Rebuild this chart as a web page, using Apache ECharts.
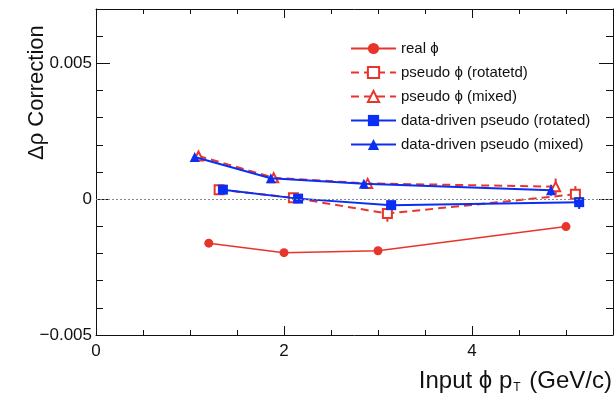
<!DOCTYPE html>
<html>
<head>
<meta charset="utf-8">
<script src="https://cdn.jsdelivr.net/npm/echarts@6/dist/echarts.min.js"></script>
<style>
  html, body { margin: 0; padding: 0; background: #fff; }
  #chart { width: 616px; height: 406px; }
</style>
</head>
<body>
<div id="chart"></div>
<script>
// values
const realX = [1.2, 2.0, 3.0, 5.0];
const realY = [-0.00162, -0.00197, -0.0019, -0.00101];

const pseudoRotX = [1.31, 2.1, 3.1, 5.1];
const pseudoRotY = [0.00035, 0.00005, -0.00053, 0.00018];
const pseudoRotErr = [0.00005, 0.00005, 0.0003, 0.0003];

const pseudoMixX = [1.09, 1.89, 2.89, 4.89];
const pseudoMixY = [0.00159, 0.00079, 0.00058, 0.00046];
const pseudoMixErr = [0.00005, 0.00005, 0.00005, 0.0003];

const dataRotX = [1.35, 2.15, 3.14, 5.14];
const dataRotY = [0.00035, 0.00002, -0.00022, -0.00011];
const dataRotErr = [0.00005, 0.00005, 0.00005, 0.00025];

const dataMixX = [1.05, 1.86, 2.85, 4.84];
const dataMixY = [0.00155, 0.00077, 0.00057, 0.00033];
const dataMixErr = [0.00005, 0.00005, 0.00005, 0.0002];

const names = [
  'real ϕ',
  'pseudo ϕ (rotatetd)',
  'pseudo ϕ (mixed)',
  'data-driven pseudo (rotated)',
  'data-driven pseudo (mixed)',
];

const RED = '#e8352b';
const BLUE = '#0a2ef2';
const FONT = '"Liberation Sans", Arial, sans-serif';

const pairs = (xs, ys) => xs.map((x, i) => [x, ys[i]]);
const errPairs = (xs, ys, es) => xs.map((x, i) => [x, ys[i], es[i]]);

const fmtY = (v) => {
  if (Math.abs(v) < 1e-9) return '0';
  return (v < 0 ? '\u2212' : '') + Math.abs(v).toFixed(3);
};

const errorBars = (data, color) => ({
  type: 'custom',
  silent: true,
  z: 1,
  data,
  encode: { x: 0, y: 1 },
  renderItem: (params, api) => {
    const x = api.value(0);
    const y = api.value(1);
    const e = api.value(2);
    const lo = api.coord([x, y - e]);
    const hi = api.coord([x, y + e]);
    return {
      type: 'line',
      shape: { x1: lo[0], y1: lo[1], x2: hi[0], y2: hi[1] },
      style: { stroke: color, lineWidth: 2 },
    };
  },
});

const chart = echarts.init(document.getElementById('chart'));

const axisLine = { show: true, onZero: false, lineStyle: { color: '#111', width: 1 } };
const tickStyle = { color: '#111' };

const xAxisBase = {
  type: 'value',
  min: 0,
  max: 5.5,
  interval: 2,
  axisLine,
  axisTick: { inside: true, length: 9, lineStyle: tickStyle },
  minorTick: { show: true, splitNumber: 4, length: 5, lineStyle: tickStyle },
  splitLine: { show: false },
};

const yAxisBase = {
  type: 'value',
  min: -0.005,
  max: 0.007,
  interval: 0.005,
  axisLine,
  axisTick: { inside: true, length: 14, lineStyle: tickStyle },
  minorTick: { show: true, splitNumber: 5, length: 7, lineStyle: tickStyle },
  splitLine: { show: false },
};

const option = {
  animation: false,
  textStyle: { fontFamily: FONT },
  grid: { left: 96, right: 3, top: 9, bottom: 71 },
  legend: {
    orient: 'vertical',
    left: 345,
    top: 36,
    itemWidth: 45,
    itemHeight: 14,
    itemGap: 9,
    data: names,
    textStyle: { fontFamily: FONT, fontSize: 15, color: '#111', lineHeight: 14 },
  },
  xAxis: [
    {
      ...xAxisBase,
      axisLabel: {
        showMaxLabel: false,
        margin: 8,
        fontSize: 17,
        color: '#111',
        fontFamily: FONT,
      },
    },
    { ...xAxisBase, position: 'top', axisLabel: { show: false } },
  ],
  yAxis: [
    {
      ...yAxisBase,
      axisLabel: {
        showMaxLabel: false,
        margin: 4,
        fontSize: 17,
        color: '#111',
        fontFamily: FONT,
        formatter: fmtY,
      },
    },
    { ...yAxisBase, position: 'right', axisLabel: { show: false } },
  ],
  graphic: [
    {
      type: 'text',
      x: 26,
      y: 160,
      rotation: Math.PI / 2,
      style: {
        text: 'Δρ Correction',
        font: '22px ' + FONT,
        fill: '#111',
        align: 'left',
        verticalAlign: 'alphabetic',
      },
    },
    {
      type: 'text',
      right: 4,
      top: 369,
      style: {
        text: '{n|Input ϕ p}{s|T}{n| (GeV/c)}',
        rich: {
          n: { font: '24px ' + FONT, fill: '#111' },
          s: { font: '12px ' + FONT, fill: '#111', padding: [14, 2, 0, 1] },
        },
      },
    },
  ],
  series: [
    {
      name: names[0],
      type: 'line',
      data: pairs(realX, realY),
      symbol: 'circle',
      symbolSize: 9,
      color: RED,
      lineStyle: { width: 1.5, color: RED },
      z: 2,
      markLine: {
        silent: true,
        symbol: 'none',
        label: { show: false },
        lineStyle: { type: [2, 2], color: '#888', width: 1 },
        data: [{ yAxis: 0 }],
      },
    },
    {
      name: names[1],
      type: 'line',
      data: pairs(pseudoRotX, pseudoRotY),
      symbol: 'emptyRect',
      symbolSize: 9,
      color: RED,
      itemStyle: { borderWidth: 1 },
      lineStyle: { width: 2, type: [8, 5], color: RED },
      z: 3,
    },
    {
      name: names[2],
      type: 'line',
      data: pairs(pseudoMixX, pseudoMixY),
      symbol: 'emptyTriangle',
      symbolSize: 9,
      color: RED,
      itemStyle: { borderWidth: 1 },
      lineStyle: { width: 2, type: [8, 5], color: RED },
      z: 3,
    },
    {
      name: names[3],
      type: 'line',
      data: pairs(dataRotX, dataRotY),
      symbol: 'rect',
      symbolSize: 10,
      color: BLUE,
      lineStyle: { width: 2, color: BLUE },
      z: 4,
    },
    {
      name: names[4],
      type: 'line',
      data: pairs(dataMixX, dataMixY),
      symbol: 'triangle',
      symbolSize: 10,
      color: BLUE,
      lineStyle: { width: 2, color: BLUE },
      z: 4,
    },
    errorBars(errPairs(pseudoRotX, pseudoRotY, pseudoRotErr), RED),
    errorBars(errPairs(pseudoMixX, pseudoMixY, pseudoMixErr), RED),
    errorBars(errPairs(dataRotX, dataRotY, dataRotErr), BLUE),
    errorBars(errPairs(dataMixX, dataMixY, dataMixErr), BLUE),
  ],
};

chart.setOption(option);
</script>
</body>
</html>
